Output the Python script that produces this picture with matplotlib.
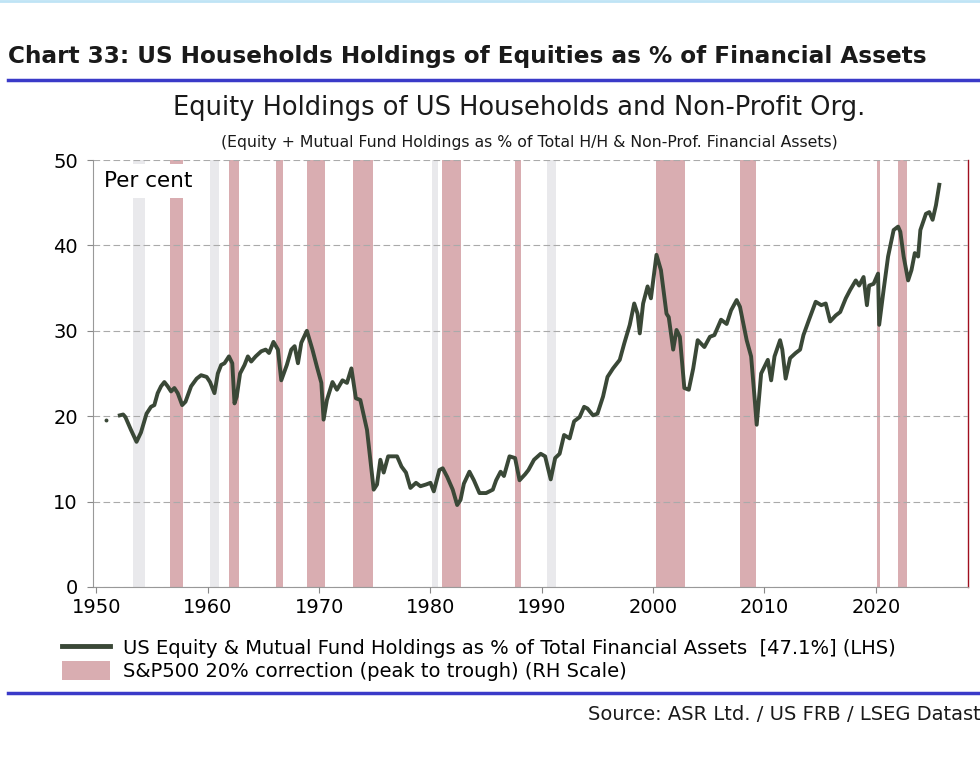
import numpy as np
import matplotlib.pyplot as plt
from matplotlib.lines import Line2D
from matplotlib.patches import Patch

plt.rcParams['font.family'] = ['DejaVu Sans']

# Equity + mutual fund holdings as % of financial assets
first_year = [1950.9]
first_value = [19.5]

years = [1952.1, 1952.4, 1952.6, 1953.1, 1953.6, 1954.0, 1954.5, 1954.9, 1955.2, 1955.5,
         1955.8, 1956.1, 1956.4, 1956.7, 1957.0, 1957.3, 1957.7, 1958.0, 1958.5, 1959.0,
         1959.4, 1959.9, 1960.2, 1960.6, 1960.9, 1961.2, 1961.5, 1961.9, 1962.2, 1962.4,
         1962.6, 1962.9, 1963.3, 1963.6, 1963.9, 1964.3, 1964.8, 1965.2, 1965.5, 1965.9,
         1966.3, 1966.6, 1967.1, 1967.5, 1967.8, 1968.1, 1968.4, 1968.9, 1969.4, 1969.8,
         1970.2, 1970.4, 1970.7, 1971.2, 1971.6, 1972.1, 1972.5, 1972.9, 1973.3, 1973.7,
         1974.3, 1974.6, 1974.9, 1975.2, 1975.5, 1975.8, 1976.2, 1977.0, 1977.4, 1977.8,
         1978.2, 1978.7, 1979.1, 1979.6, 1980.0, 1980.3, 1980.8, 1981.1, 1981.5, 1982.0,
         1982.4, 1982.7, 1983.0, 1983.5, 1983.9, 1984.4, 1985.0, 1985.6, 1985.9, 1986.3,
         1986.6, 1987.1, 1987.6, 1988.0, 1988.5, 1988.8, 1989.3, 1989.9, 1990.3, 1990.8,
         1991.2, 1991.6, 1992.0, 1992.5, 1992.9, 1993.4, 1993.8, 1994.1, 1994.6, 1995.0,
         1995.5, 1995.9, 1996.4, 1997.0, 1997.4, 1997.9, 1998.3, 1998.6, 1998.8, 1999.1,
         1999.5, 1999.8, 2000.3, 2000.7, 2001.2, 2001.4, 2001.8, 2002.1, 2002.4, 2002.8,
         2003.2, 2003.6, 2004.0, 2004.6, 2005.1, 2005.5, 2006.1, 2006.6, 2007.0, 2007.5,
         2007.8, 2008.4, 2008.8, 2009.1, 2009.3, 2009.7, 2010.0, 2010.3, 2010.6, 2010.9,
         2011.4, 2011.6, 2011.9, 2012.3, 2012.8, 2013.2, 2013.5, 2014.0, 2014.6, 2015.1,
         2015.5, 2015.9, 2016.4, 2016.8, 2017.3, 2017.7, 2018.2, 2018.5, 2018.9, 2019.2,
         2019.4, 2019.8, 2020.2, 2020.3, 2020.7, 2021.1, 2021.6, 2022.0, 2022.2, 2022.5,
         2022.9, 2023.2, 2023.5, 2023.8, 2024.0, 2024.5, 2024.8, 2025.1, 2025.4, 2025.7]

values = [20.1, 20.2, 19.9, 18.4, 17.0, 18.1, 20.3, 21.1, 21.3, 22.7,
          23.5, 24.0, 23.5, 22.9, 23.3, 22.7, 21.3, 21.7, 23.5, 24.4,
          24.8, 24.6, 24.0, 22.7, 25.0, 26.0, 26.2, 27.0, 26.2, 21.5,
          22.3, 25.0, 26.0, 27.0, 26.4, 27.0, 27.6, 27.8, 27.4, 28.7,
          27.8, 24.2, 26.0, 27.8, 28.2, 26.2, 28.6, 30.0, 27.8, 25.8,
          23.9, 19.6, 21.9, 24.0, 23.1, 24.2, 23.9, 25.6, 22.1, 21.9,
          18.4, 14.9, 11.4, 12.0, 14.9, 13.4, 15.3, 15.3, 14.1, 13.4,
          11.6, 12.2, 11.8, 12.0, 12.2, 11.2, 13.7, 13.9, 12.9, 11.4,
          9.6, 10.2, 12.1, 13.5, 12.5, 11.0, 11.0, 11.4, 12.5, 13.5,
          13.0, 15.3, 15.1, 12.5, 13.2, 13.7, 14.9, 15.6, 15.3, 12.6,
          15.1, 15.6, 17.8, 17.4, 19.4, 19.9, 21.1, 20.9, 20.1, 20.3,
          22.3, 24.6, 25.6, 26.6, 28.5, 30.7, 33.2, 32.0, 29.7, 33.2,
          35.2, 33.8, 38.9, 37.1, 32.0, 31.6, 27.8, 30.1, 29.3, 23.3,
          23.1, 25.6, 28.9, 28.1, 29.3, 29.5, 31.3, 30.8, 32.4, 33.6,
          32.8, 28.9, 27.0, 22.3, 19.0, 25.0, 25.8, 26.6, 24.2, 27.0,
          28.9, 27.8, 24.4, 26.8, 27.4, 27.8, 29.5, 31.3, 33.4, 33.0,
          33.2, 31.1, 31.8, 32.2, 33.8, 34.8, 35.9, 35.3, 36.3, 33.0,
          35.3, 35.5, 36.7, 30.7, 34.8, 38.7, 41.8, 42.2, 41.6, 38.7,
          35.9, 37.1, 39.1, 38.7, 41.8, 43.7, 43.9, 43.0, 44.7, 47.1]

# S&P500 20% corrections (start, end)
corr_start = [1956.6, 1961.9, 1966.1, 1968.9, 1973.0, 1981.05, 1987.6, 2000.3, 2007.8, 2020.1, 2022.0]
corr_end = [1957.8, 1962.8, 1966.8, 1970.5, 1974.8, 1982.7, 1988.1, 2002.9, 2009.2, 2020.4, 2022.8]
# light grey bands
grey_start = [1953.3, 1960.2, 1980.1, 1990.5]
grey_end = [1954.4, 1961.0, 1980.7, 1991.3]

line_col = '#3a4837'
pink = '#d9adb1'
grey = '#e9e9ec'

fig = plt.figure(figsize=(9.8, 7.58), dpi=100)
ax = fig.add_axes([0.095, 0.2256, 0.893, 0.5633])

for s, e in zip(grey_start, grey_end):
    ax.axvspan(s, e, color=grey, lw=0, zorder=1)
for s, e in zip(corr_start, corr_end):
    ax.axvspan(s, e, color=pink, lw=0, zorder=1)

ax.plot(years, values, color=line_col, lw=2.8, zorder=3, solid_joinstyle='round')
ax.plot(first_year, first_value, 'o', color=line_col, ms=1.8, zorder=3)

ax.set_xlim(1949.7, 2028.3)
ax.set_ylim(0, 50)
ax.set_xticks(range(1950, 2021, 10))
ax.set_yticks(range(0, 51, 10))
ax.tick_params(axis='both', labelsize=14, length=4, color='#888888')
ax.tick_params(axis='x', pad=4)
ax.tick_params(axis='y', pad=7)
ax.yaxis.grid(True, color='#aaaaaa', ls=(0, (6, 3)), lw=0.8, zorder=2)
ax.set_axisbelow(False)
for side in ['left', 'bottom']:
    ax.spines[side].set_color('#999999')
ax.spines['top'].set_visible(False)
ax.spines['right'].set_color('#a01020')
ax.spines['right'].set_linewidth(1.0)

ax.text(0.013, 0.95, 'Per cent', transform=ax.transAxes, fontsize=15.5, va='center', ha='left',
        zorder=4, bbox=dict(facecolor='white', edgecolor='none', pad=5))

# titles and frame lines
fig.text(0.008, 0.926, 'Chart 33: US Households Holdings of Equities as % of Financial Assets',
         fontsize=16.7, fontweight='bold', color='#1a1a1a', va='center')
fig.add_artist(Line2D([0.008, 1.0], [0.895, 0.895], color='#3a3ac8', lw=2.5))
fig.add_artist(Line2D([0.0, 1.0], [0.999, 0.999], color='#bfe4f5', lw=2))
fig.text(0.53, 0.858, 'Equity Holdings of US Households and Non-Profit Org.',
         fontsize=18.5, ha='center', va='center', color='#1a1a1a')
fig.text(0.54, 0.812, '(Equity + Mutual Fund Holdings as % of Total H/H & Non-Prof. Financial Assets)',
         fontsize=11.3, ha='center', va='center', color='#1a1a1a')

handles = [Line2D([], [], color=line_col, lw=3.5),
           Patch(facecolor=pink, edgecolor='none')]
labels = ['US Equity & Mutual Fund Holdings as % of Total Financial Assets  [47.1%] (LHS)',
          'S&P500 20% correction (peak to trough) (RH Scale)']
fig.legend(handles, labels, loc='upper left', bbox_to_anchor=(0.063, 0.158), frameon=False,
           fontsize=14, handlelength=2.5, handleheight=1.1, labelspacing=0.15,
           handletextpad=0.65, borderaxespad=0, borderpad=0)

fig.add_artist(Line2D([0.008, 1.0], [0.086, 0.086], color='#3a3ac8', lw=2.5))
fig.text(0.6, 0.058, 'Source: ASR Ltd. / US FRB / LSEG Datastream', fontsize=14,
         ha='left', va='center', color='#1a1a1a')

fig.savefig('out.png', dpi=100)
